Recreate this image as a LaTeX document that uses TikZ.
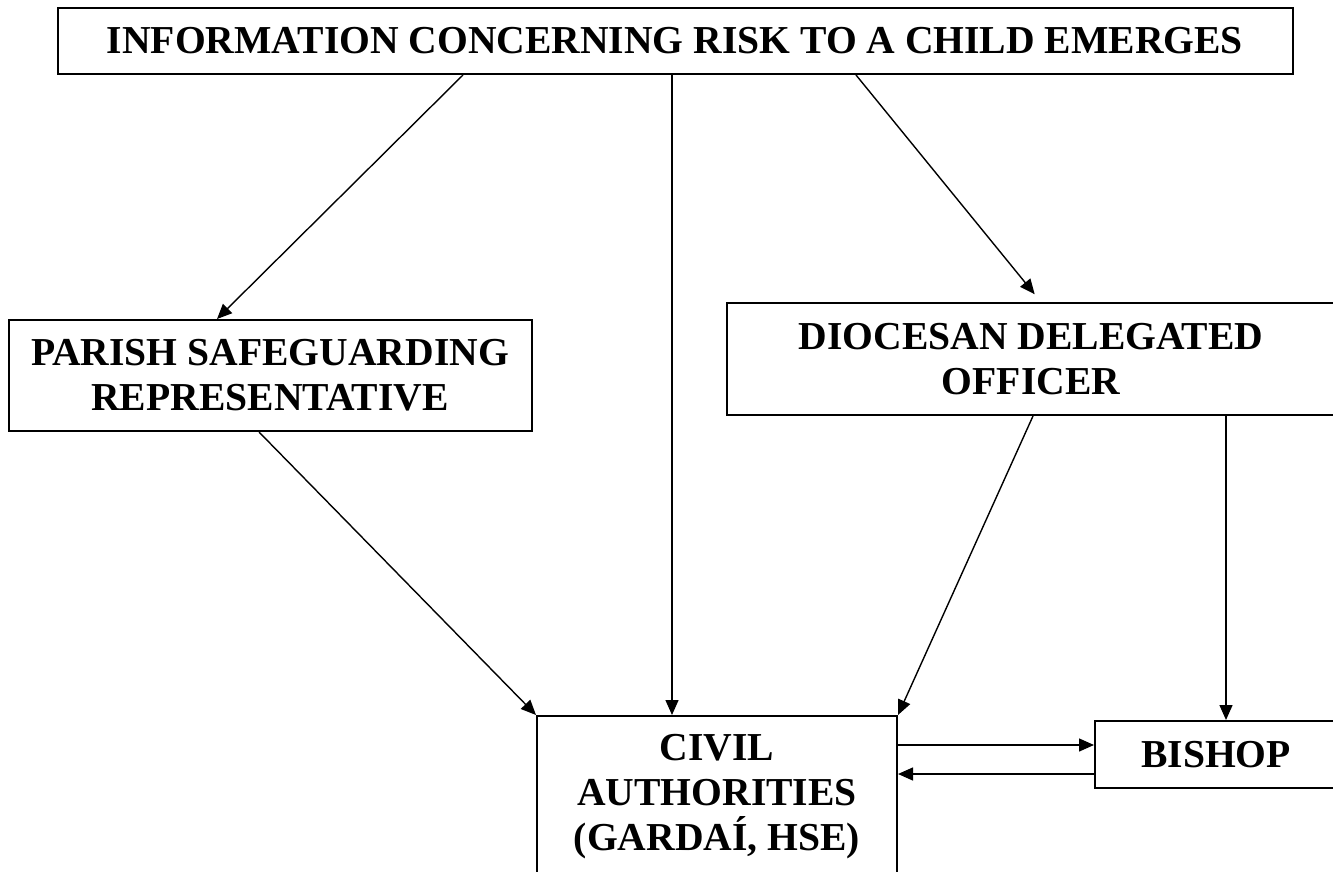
\documentclass[tikz,border=0pt]{standalone}
\usepackage{fontspec}
\setmainfont{Liberation Serif}
\usetikzlibrary{arrows.meta,positioning}

\begin{document}
\begin{tikzpicture}[
  x=0.5pt,y=-0.5pt,
  box/.style={draw,line width=1pt,align=center,inner sep=0pt,
              font=\fontsize{19.8}{22.5}\selectfont\bfseries},
  ar/.style={-{Triangle[length=7.5pt,width=6.5pt]},line width=0.7pt}
]
\useasboundingbox (0,0) rectangle (1333,872);
\clip (0,0) rectangle (1333,872);
\node[box,minimum width=617.5pt,minimum height=33pt] (info) at (675,41)
  {INFORMATION CONCERNING RISK TO A CHILD EMERGES};
\node[box,minimum width=261.5pt,minimum height=55.5pt] (psr) at (270,375.5)
  {PARISH SAFEGUARDING\\REPRESENTATIVE};
\node[box,minimum width=304pt,minimum height=56pt] (ddo) at (1031,359)
  {DIOCESAN DELEGATED\\OFFICER};
\node[box,minimum width=180pt,minimum height=80.5pt] (civ) at (717,796.5)
  {CIVIL\\AUTHORITIES\\(GARDAÍ, HSE)};
\node[box,minimum width=121pt,minimum height=33.5pt] (bis) at (1216,754.5)
  {BISHOP};
\draw[ar] ([xshift=-106pt]info.south) -- ([xshift=-26.5pt]psr.north);
\draw[ar] ([xshift=-22.5pt]civ.north |- info.south) -- ([xshift=-22.5pt]civ.north);
\draw[ar,shorten >=5pt] ([xshift=90.5pt]info.south) -- ([xshift=5pt]ddo.north);
\draw[ar] ([xshift=-5.5pt]psr.south) -- (civ.north west);
\draw[ar] ([xshift=1pt]ddo.south) -- (civ.north east);
\draw[ar] ([xshift=5pt]bis.north |- ddo.south) -- ([xshift=5pt]bis.north);
\coordinate (b1) at ([yshift=4.75pt]bis.west);
\coordinate (b2) at ([yshift=-9.75pt]bis.west);
\draw[ar] (civ.east |- b1) -- (b1);
\draw[ar] (b2) -- (civ.east |- b2);
\end{tikzpicture}
\end{document}
